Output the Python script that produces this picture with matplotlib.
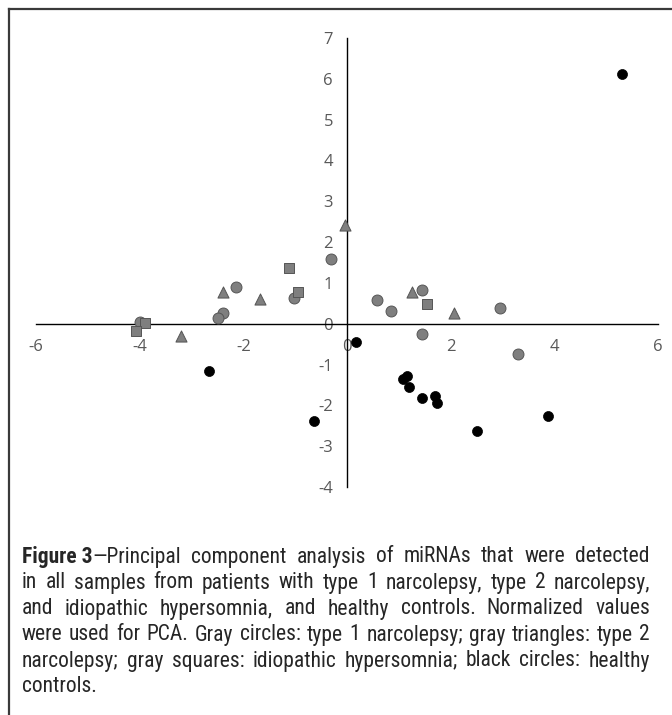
import matplotlib
matplotlib.use('Agg')
import matplotlib.pyplot as plt
from matplotlib.lines import Line2D
from matplotlib import font_manager

# PCA scores (PC1, PC2)
t1_x = [-0.31, -2.15, -1.03, -2.40, -2.48, -4.00, 0.58, 0.85, 1.45, 1.45, 2.96, 3.29]
t1_y = [1.59, 0.90, 0.63, 0.27, 0.15, 0.05, 0.58, 0.32, 0.83, -0.24, 0.39, -0.73]

t2_x = [-0.04, -2.40, -1.68, -3.21, 1.26, 2.07]
t2_y = [2.42, 0.78, 0.60, -0.29, 0.78, 0.27]

ih_x = [-1.12, -0.95, -3.89, -4.08, 1.55]
ih_y = [1.36, 0.78, 0.03, -0.18, 0.48]

hc_x = [5.30, 0.17, -2.67, -0.64, 1.08, 1.16, 1.20, 1.45, 1.70, 1.74, 2.50, 3.87]
hc_y = [6.13, -0.44, -1.15, -2.39, -1.35, -1.29, -1.56, -1.83, -1.78, -1.95, -2.63, -2.27]

x_ticks = [-6, -4, -2, 0, 2, 4, 6]
y_ticks = [-4, -3, -2, -1, 0, 1, 2, 3, 4, 5, 6, 7]

caption_lines = [
    [[('Figure 3', 'bold'), ('\u2014Principal', 'normal')], 'component', 'analysis', 'of',
     'miRNAs', 'that', 'were', 'detected'],
    'in all samples from patients with type 1 narcolepsy, type 2 narcolepsy,'.split(),
    'and idiopathic hypersomnia, and healthy controls. Normalized values'.split(),
    'were used for PCA. Gray circles: type 1 narcolepsy; gray triangles: type 2'.split(),
    'narcolepsy; gray squares: idiopathic hypersomnia; black circles: healthy'.split(),
    'controls.'.split(),
]

W, H = 672, 715
fig = plt.figure(figsize=(W / 100, H / 100), dpi=100)

# axes placed so that x=-6..6 -> px 36..658 and y=7..-4 -> px 38..487
ax = fig.add_axes([36 / W, (H - 487) / H, 622 / W, 449 / H])
ax.set_xlim(-6, 6)
ax.set_ylim(-4, 7)

gray = '#7f7f7f'
edge = '#555555'
ax.scatter(t1_x, t1_y, s=62, marker='o', c=gray, edgecolors=edge, linewidths=0.7, zorder=3)
ax.scatter(t2_x, t2_y, s=64, marker='^', c=gray, edgecolors=edge, linewidths=0.7, zorder=3)
ax.scatter(ih_x, ih_y, s=60, marker='s', c=gray, edgecolors=edge, linewidths=0.7, zorder=3)
ax.scatter(hc_x, hc_y, s=52, marker='o', c='black', edgecolors='black', linewidths=0.5, zorder=3)

for side in ['top', 'right']:
    ax.spines[side].set_visible(False)
ax.spines['left'].set_position(('data', 0))
ax.spines['bottom'].set_position(('data', 0))
for side in ['left', 'bottom']:
    ax.spines[side].set_linewidth(1.0)
    ax.spines[side].set_color('black')
ax.set_xticks(x_ticks)
ax.set_yticks(y_ticks)
ax.set_xticklabels([str(v) for v in x_ticks])
ax.set_yticklabels([str(v) for v in y_ticks])
ax.tick_params(axis='x', length=0, pad=11, labelsize=12, labelcolor='#595959')
ax.tick_params(axis='y', length=0, pad=10, labelsize=12, labelcolor='#595959')
for lab in ax.get_xticklabels() + ax.get_yticklabels():
    lab.set_fontfamily(['Open Sans', 'DejaVu Sans'])
ax.patch.set_visible(False)

# outer frame (only left and top edges are visible in the crop)
fig.add_artist(Line2D([9 / W, 9 / W], [0, 1 - 9 / H], transform=fig.transFigure,
                      color='#3a3a3a', lw=1.6))
fig.add_artist(Line2D([9 / W, 1], [1 - 9 / H, 1 - 9 / H], transform=fig.transFigure,
                      color='#3a3a3a', lw=1.6))

# caption font: prefer a narrow sans with regular and bold weights
installed = {f.name for f in font_manager.fontManager.ttflist}
prefs = ['Liberation Sans Narrow', 'Arial Narrow', 'Roboto Condensed', 'Noto Sans Condensed',
         'DejaVu Sans Condensed', 'Liberation Sans']
cap_font = [next(p for p in prefs if p in installed), 'DejaVu Sans']

cap_color = '#262626'
left_px, right_px = 22, 650
line_y = [557, 583, 609, 635, 661, 687]

renderer = fig.canvas.get_renderer()

# size the font so the tightest line (line 4) just fills the column
probe = fig.text(0, 0, ' '.join(caption_lines[3]), fontsize=10, family=cap_font)
w10 = probe.get_window_extent(renderer).width
probe.remove()
cap_size = min(15.5, 10 * (right_px - left_px) / w10 * 0.995)

sp_a = fig.text(0, 0, 'a b', fontsize=cap_size, family=cap_font)
sp_b = fig.text(0, 0, 'ab', fontsize=cap_size, family=cap_font)
space_w = sp_a.get_window_extent(renderer).width - sp_b.get_window_extent(renderer).width
sp_a.remove()
sp_b.remove()

for li, words in enumerate(caption_lines):
    y = 1 - line_y[li] / H
    tokens = []
    for w in words:
        segs = w if isinstance(w, list) else [(w, 'normal')]
        arts = []
        for txt, wt in segs:
            t = fig.text(0, y, txt, fontsize=cap_size, fontweight=wt, family=cap_font,
                         color=cap_color, va='center', ha='left')
            arts.append(t)
        tokens.append(arts)
    widths = [[a.get_window_extent(renderer).width for a in arts] for arts in tokens]
    total = sum(sum(ws) for ws in widths)
    if li == len(caption_lines) - 1 or len(tokens) == 1:
        gap = space_w
    else:
        gap = (right_px - left_px - total) / (len(tokens) - 1)
    x = left_px
    for arts, ws in zip(tokens, widths):
        for a, wd in zip(arts, ws):
            a.set_x(x / W)
            x += wd
        x += gap

fig.savefig('out.png', dpi=100)
